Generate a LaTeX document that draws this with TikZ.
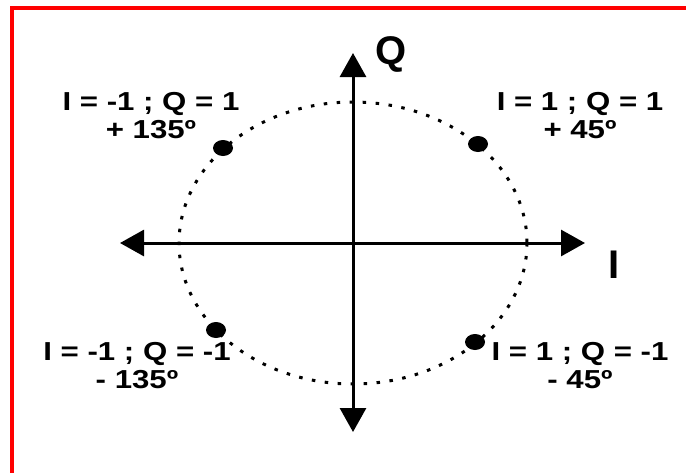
\documentclass[tikz,border=0pt]{standalone}
\usepackage{fontspec}
\setmainfont{Liberation Sans}
\usetikzlibrary{arrows.meta,shapes.geometric}
\definecolor{framered}{RGB}{255,0,0}

\begin{document}
\begin{tikzpicture}[x=1pt, y=-1pt, >={Triangle[length=24pt, width=26pt]},
    lbl/.style={font=\fontsize{26}{28}\selectfont\bfseries, xscale=1.2, align=center, inner sep=0pt, anchor=north},
    axislbl/.style={font=\fontsize{40}{40}\selectfont\bfseries, inner sep=0pt},
    symb/.style={ellipse, fill=black, minimum width=20pt, minimum height=16pt, inner sep=0pt}]
    \useasboundingbox (0,0) rectangle (686,472);
    % frame
    \draw[framered, line width=3.5pt] (12,480) -- (12,8) -- (700,8);
    % axes
    \coordinate (o) at (353,243);
    \coordinate (west) at (120,243);
    \coordinate (east) at (585,243);
    \coordinate (north) at (353,53);
    \coordinate (south) at (353,432);
    \draw[line width=3pt, dash pattern=on 3.5pt off 9.5pt] (o) ellipse [x radius=174, y radius=141];
    \draw[<->, line width=3pt] (west) -- (east);
    \draw[<->, line width=3pt] (south) -- (north);
    \node[axislbl] (qlab) at (391,54) {Q};
    \node[axislbl] (ilab) at (614,265) {I};
    % constellation points
    \node[symb] (s1) at (478,144) {};
    \node[symb] (s2) at (223,148) {};
    \node[symb] (s3) at (216,330) {};
    \node[symb] (s4) at (475,342) {};
    \node[lbl] (l1) at (580,92) {I = 1 ; Q = 1\\+ 45º};
    \node[lbl] (l2) at (151,92) {I = -1 ; Q = 1\\+ 135º};
    \node[lbl] (l3) at (137,342) {I = -1 ; Q = -1\\- 135º};
    \node[lbl] (l4) at (580,342) {I = 1 ; Q = -1\\- 45º};
\end{tikzpicture}
\end{document}
